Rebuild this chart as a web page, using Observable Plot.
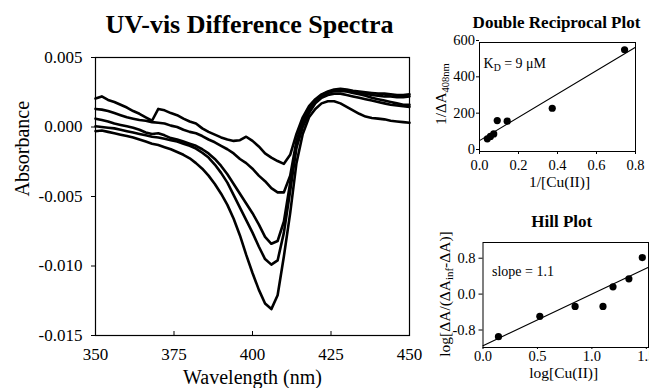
<!DOCTYPE html>
<html><head><meta charset="utf-8">
<script src="https://cdn.jsdelivr.net/npm/d3@7"></script>
<script src="https://cdn.jsdelivr.net/npm/@observablehq/plot@0.6"></script>
<style>
html,body{margin:0;padding:0;background:#fff;}
#wrap{position:relative;width:649px;height:388px;overflow:hidden;background:#fff;font-family:"Liberation Serif","Times New Roman",Times,serif;}
#wrap svg{position:absolute;}
</style></head><body><div id="wrap"></div>
<script>
// ---------- data: UV-vis difference spectra (values in milli-absorbance units) ----------
const wavelength = [350,352,354,356,358,360,362,364,366,368,370,372,374,376,378,380,382,384,386,388,390,392,394,396,398,400,402,404,406,408,410,412,414,416,418,420,422,424,426,428,430,432,434,436,438,440,442,444,446,448,450];
const spectrum1 = [2.05,2.2,1.95,1.8,1.6,1.4,1.15,0.95,0.7,0.45,1.3,1.2,1.0,0.85,0.6,0.4,0.25,-0.1,-0.35,-0.55,-0.75,-0.9,-1.0,-0.95,-0.7,-1.0,-1.4,-1.9,-2.2,-2.45,-2.65,-2.0,-0.5,0.7,1.5,2.0,2.35,2.55,2.7,2.75,2.7,2.6,2.55,2.5,2.45,2.4,2.4,2.35,2.3,2.3,2.35];
const spectrum2 = [1.3,1.25,1.15,1.0,0.85,0.7,0.6,0.5,0.45,0.35,0.3,0.25,0.1,0.0,-0.2,-0.35,-0.45,-0.65,-0.9,-1.1,-1.35,-1.6,-1.9,-2.3,-2.6,-3.0,-3.5,-3.9,-4.4,-4.7,-4.7,-3.5,-1.0,0.4,1.3,1.9,2.3,2.5,2.6,2.6,2.55,2.45,2.35,2.25,2.1,2.0,1.9,1.8,1.7,1.6,1.6];
const spectrum3 = [0.6,0.5,0.4,0.25,0.15,0.05,-0.05,-0.2,-0.4,-0.5,-0.45,-0.6,-0.8,-0.9,-1.05,-1.2,-1.35,-1.6,-1.9,-2.3,-2.8,-3.4,-4.1,-4.8,-5.5,-6.2,-7.0,-7.9,-8.4,-8.2,-6.8,-4.0,-1.3,0.2,1.1,1.8,2.2,2.45,2.6,2.65,2.6,2.5,2.45,2.4,2.3,2.25,2.2,2.2,2.15,2.15,2.2];
const spectrum4 = [0.05,0.0,-0.05,-0.1,-0.2,-0.3,-0.4,-0.5,-0.6,-0.7,-0.75,-0.85,-0.95,-1.05,-1.2,-1.35,-1.55,-1.85,-2.2,-2.7,-3.3,-4.0,-4.9,-5.8,-6.7,-7.6,-8.6,-9.5,-9.9,-9.6,-7.6,-4.6,-1.5,0.0,1.0,1.7,2.1,2.3,2.4,2.4,2.3,2.2,2.1,2.0,1.9,1.8,1.7,1.6,1.55,1.5,1.45];
const spectrum5 = [-0.3,-0.25,-0.35,-0.45,-0.55,-0.65,-0.75,-0.9,-1.05,-1.2,-1.3,-1.45,-1.6,-1.8,-2.0,-2.25,-2.6,-3.0,-3.5,-4.1,-4.8,-5.6,-6.6,-7.8,-9.2,-10.5,-11.7,-12.7,-13.1,-12.1,-9.3,-6.2,-2.6,-0.5,0.7,1.3,1.7,1.85,1.85,1.7,1.45,1.2,0.95,0.75,0.65,0.6,0.55,0.45,0.4,0.35,0.3];
const wavelengthTicks = [350,375,400,425,450];
const absorbanceTicks = [-0.015,-0.010,-0.005,0.000,0.005];

// ---------- data: double reciprocal plot ----------
const invCu = [0.040,0.056,0.073,0.091,0.142,0.373,0.744];
const invDeltaA = [70,83,97,170,167,238,560];
const invCuFit = [0.0,0.8];
const invDeltaAFit = [60,574];
const invCuTicks = [0.0,0.2,0.4,0.6,0.8];
const invDeltaATicks = [0,200,400,600];

// ---------- data: Hill plot ----------
const logCu = [0.142,0.522,0.846,1.102,1.194,1.34,1.463];
const logRatio = [-0.948,-0.496,-0.274,-0.274,0.163,0.34,0.815];
const logCuFit = [0.0,1.52];
const logRatioFit = [-1.15,0.60];
const logCuTicks = [0.0,0.5,1.0,1.5];
const logRatioTicks = [-0.8,0.0,0.8];

const serif = '"Liberation Serif", "Times New Roman", Times, serif';
const baseStyle = {fontFamily: serif, color: "#000", background: "none", overflow: "visible"};

// build tables
const spectra = [spectrum1, spectrum2, spectrum3, spectrum4, spectrum5];
const specRows = [];
spectra.forEach((s, i) => s.forEach((v, j) => specRows.push({nm: wavelength[j], A: v / 1000, run: i})));
const drRows = invCu.map((x, i) => ({x, y: invDeltaA[i]}));
const drFit = invCuFit.map((x, i) => ({x, y: invDeltaAFit[i]}));
const hillRows = logCu.map((x, i) => ({x, y: logRatio[i]}));
const hillFit = logCuFit.map((x, i) => ({x, y: logRatioFit[i]}));

const T = (s, o) => Plot.text([s], {text: d => d, lineAnchor: "bottom", fill: "#000", fontFamily: serif, ...o});
const AX = (f, o) => f({fontFamily: serif, label: null, stroke: "#000", fill: "#000", ...o});

// ---------- main spectra panel ----------
const main = Plot.plot({
  width: 420, height: 388,
  marginLeft: 95, marginRight: 11, marginTop: 57, marginBottom: 53,
  style: {...baseStyle, fontSize: "17px"},
  x: {domain: [350, 450], label: null},
  y: {domain: [-0.015, 0.005], label: null},
  marks: [
    Plot.line(specRows, {x: "nm", y: "A", z: "run", stroke: "#000", strokeWidth: 2.6, strokeLinejoin: "round"}),
    Plot.frame({stroke: "#000", strokeWidth: 1.2}),
    AX(Plot.axisX, {ticks: wavelengthTicks, tickSize: -4, tickFormat: () => ""}),
    AX(Plot.axisX, {ticks: wavelengthTicks, tickSize: 0, tickPadding: 12, tickFormat: d => String(d), fontSize: 17}),
    AX(Plot.axisY, {ticks: absorbanceTicks, tickSize: 4, tickPadding: 9, tickFormat: d => d.toFixed(3), fontSize: 17}),
    T("UV-vis Difference Spectra", {frameAnchor: "top", dx: -3, dy: -25, fontSize: 26, fontWeight: "bold"}),
    T("Wavelength (nm)", {frameAnchor: "bottom", dy: 48, fontSize: 20}),
    T("Absorbance", {frameAnchor: "left", dx: -67, rotate: -90, fontSize: 20})
  ]
});

// ---------- double reciprocal panel ----------
const dr = Plot.plot({
  width: 229, height: 200,
  marginLeft: 59, marginRight: 14, marginTop: 42, marginBottom: 49,
  style: {...baseStyle, fontSize: "14px"},
  x: {domain: [0, 0.8], label: null},
  y: {domain: [0, 600], label: null},
  marks: [
    Plot.frame({stroke: "#000"}),
    Plot.line(drFit, {x: "x", y: "y", stroke: "#000", strokeWidth: 1.1}),
    Plot.dot(drRows, {x: "x", y: "y", r: 3.6, fill: "#000"}),
    AX(Plot.axisX, {ticks: invCuTicks, tickSize: 3, tickPadding: 5, tickFormat: d => d.toFixed(1), fontSize: 14.5}),
    AX(Plot.axisY, {ticks: invDeltaATicks, tickSize: 3, tickPadding: 1.5, dy: -2, tickFormat: d => String(d), fontSize: 14.5}),
    T("Double Reciprocal Plot", {frameAnchor: "top", dx: -1, dy: -15, fontSize: 17, fontWeight: "bold"}),
    T("1/[Cu(II)]", {frameAnchor: "bottom", dx: 2, dy: 35, fontSize: 15.5}),
    T("1/ΔA408nm", {frameAnchor: "left", dx: -34, dy: -3, rotate: -90, fontSize: 15}),
    T("KD = 9 μM", {frameAnchor: "top-left", dx: 4, dy: 25, textAnchor: "start", fontSize: 14})
  ]
});

// ---------- Hill panel ----------
const hill = Plot.plot({
  width: 229, height: 188,
  marginLeft: 62.5, marginRight: 1, marginTop: 42, marginBottom: 41,
  style: {...baseStyle, fontSize: "14px"},
  x: {domain: [0, 1.52], label: null},
  y: {domain: [-1.19, 1.15], label: null},
  marks: [
    Plot.frame({stroke: "#000"}),
    Plot.line(hillFit, {x: "x", y: "y", stroke: "#000", strokeWidth: 1.1}),
    Plot.dot(hillRows, {x: "x", y: "y", r: 3.6, fill: "#000"}),
    AX(Plot.axisX, {ticks: logCuTicks, tickSize: 2, tickPadding: 1, tickFormat: d => d.toFixed(1), fontSize: 14.5}),
    AX(Plot.axisY, {ticks: logRatioTicks, tickSize: 4, tickPadding: 3.5, tickFormat: d => d.toFixed(1), fontSize: 14.5}),
    T("Hill Plot", {frameAnchor: "top", dx: -4, dy: -15.3, fontSize: 17, fontWeight: "bold"}),
    T("log[Cu(II)]", {frameAnchor: "bottom", dx: -2, dy: 30, fontSize: 15.5}),
    T("log[ΔA/(ΔAinf-ΔA)]", {frameAnchor: "left", dx: -33.5, dy: -1, rotate: -90, fontSize: 15.5}),
    T("slope = 1.1", {frameAnchor: "top-left", dx: 9, dy: 33, textAnchor: "start", fontSize: 14})
  ]
});

const wrap = document.getElementById("wrap");
[[main, 0, 0], [dr, 420, 0], [hill, 420, 200]].forEach(([svg, l, t]) => {
  svg.style.left = l + "px"; svg.style.top = t + "px";
  wrap.appendChild(svg);
});

// subscripts (rebuilt with tspans, then re-centred along the text direction)
function subscript(svg, full, base, sub, after, size, centred) {
  d3.select(svg).selectAll("text").filter(function () { return this.textContent === full; }).each(function () {
    const t = d3.select(this);
    t.text(null);
    t.append("tspan").text(base);
    t.append("tspan").attr("font-size", (size * 0.7) + "px").attr("dy", (size * 0.25) + "px").text(sub);
    if (after) t.append("tspan").attr("dy", (-size * 0.25) + "px").text(after);
    if (centred) {
      const len = this.getComputedTextLength();
      t.attr("text-anchor", "start").attr("x", -len / 2);
    }
  });
}
subscript(dr, "1/ΔA408nm", "1/ΔA", "408nm", null, 15, true);
subscript(dr, "KD = 9 μM", "K", "D", " = 9 μM", 14, false);
subscript(hill, "log[ΔA/(ΔAinf-ΔA)]", "log[ΔA/(ΔA", "inf", "-ΔA)]", 15.5, true);
</script></body></html>
